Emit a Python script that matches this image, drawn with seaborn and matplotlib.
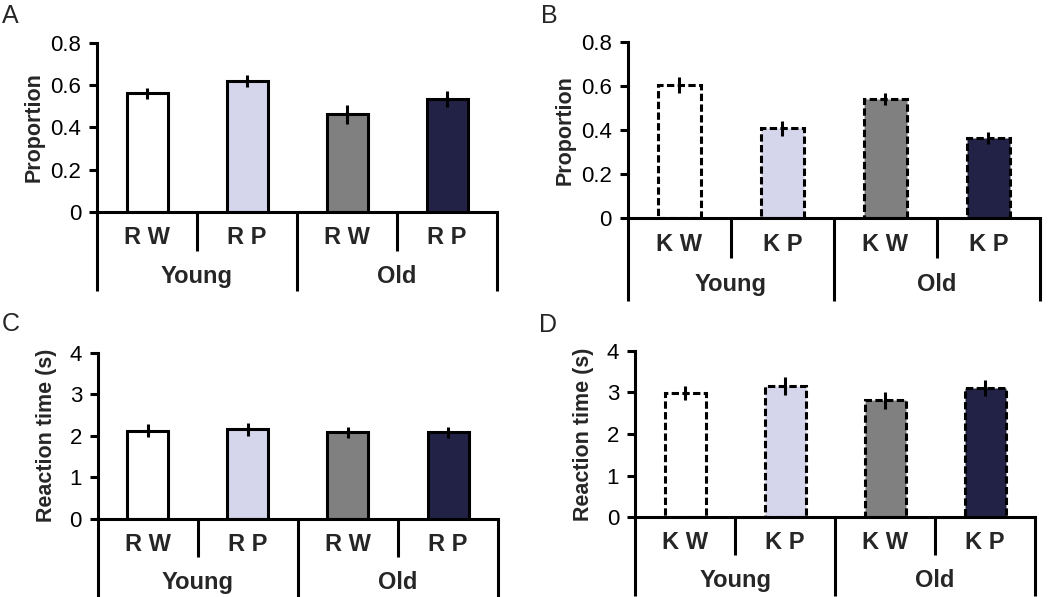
import pandas as pd
import matplotlib.pyplot as plt
import matplotlib.transforms as mtransforms
from matplotlib.ticker import FuncFormatter
import seaborn as sns

sns.set_style('white')
plt.rcParams['font.family'] = ['Liberation Sans', 'DejaVu Sans']

groups = ['Young', 'Old']
r_labels = ['R W', 'R P', 'R W', 'R P']
k_labels = ['K W', 'K P', 'K W', 'K P']
bar_colors = ['#ffffff', '#d1d2ef', '#808080', '#1c1c4c']

prop_r = [0.562, 0.620, 0.462, 0.535]
prop_r_err = [0.025, 0.027, 0.046, 0.039]
prop_k = [0.605, 0.408, 0.540, 0.365]
prop_k_err = [0.036, 0.033, 0.027, 0.028]
rt_r = [2.12, 2.16, 2.08, 2.08]
rt_r_err = [0.16, 0.16, 0.14, 0.13]
rt_k = [2.98, 3.15, 2.81, 3.10]
rt_k_err = [0.17, 0.21, 0.20, 0.19]

LW = 2.2

fig = plt.figure(figsize=(10.5, 5.97), dpi=100)


def panel(rect, labels, vals, errs, ymax, yticks, ylabel, dashed, labelpad):
    ax = fig.add_axes(rect)
    cond = [f'{g} {l}' for g, l in zip(['Young', 'Young', 'Old', 'Old'], labels)]
    df = pd.DataFrame({'cond': cond, 'value': vals})
    sns.barplot(data=df, x='cond', y='value', hue='cond', palette=bar_colors,
                width=0.41, edgecolor='black', linewidth=LW, legend=False,
                errorbar=None, ax=ax)
    xs = [p.get_x() + p.get_width() / 2 for p in ax.patches]
    if dashed:
        for p in ax.patches:
            p.set_linestyle((0, (2.4, 1.1)))
    ax.errorbar(xs, vals, yerr=errs, fmt='none', ecolor='black',
                elinewidth=LW, capsize=0, zorder=5)

    ax.set_xlim(-0.5, 3.5)
    ax.set_ylim(0, ymax)
    ax.set_yticks(yticks)
    ax.yaxis.set_major_formatter(FuncFormatter(lambda v, _: f'{v:g}'))
    ax.set_xticks([])
    ax.set_xlabel('')
    ax.set_ylabel(ylabel, fontsize=15.5, fontweight='bold', labelpad=labelpad)
    ax.tick_params(axis='y', direction='out', length=5.5, width=LW,
                   labelsize=16, pad=6, left=True, colors='black')
    for s in ['top', 'right']:
        ax.spines[s].set_visible(False)
    for s in ['left', 'bottom']:
        ax.spines[s].set_linewidth(LW)
        ax.spines[s].set_color('black')

    # category dividers and labels under the axis
    tr = mtransforms.blended_transform_factory(ax.transData, ax.transAxes)
    for x in [-0.5, 1.5, 3.5]:
        ax.plot([x, x], [0, -0.47], color='black', lw=LW, transform=tr,
                clip_on=False, solid_capstyle='butt')
    for x in [0.5, 2.5]:
        ax.plot([x, x], [0, -0.228], color='black', lw=LW, transform=tr,
                clip_on=False, solid_capstyle='butt')
    for x, lab in zip(xs, labels):
        ax.text(x, -0.152, lab, transform=tr, ha='center', va='center',
                fontsize=17, fontweight='bold')
    for i, g in enumerate(groups):
        ax.text(0.5 + 2 * i, -0.38, g, transform=tr, ha='center', va='center',
                fontsize=17, fontweight='bold')
    return ax


panel([0.0924, 0.6449, 0.381, 0.2831], r_labels, prop_r, prop_r_err, 0.8,
      [0, 0.2, 0.4, 0.6, 0.8], 'Proportion', False, 4)
panel([0.598, 0.6348, 0.3924, 0.2948], k_labels, prop_k, prop_k_err, 0.8,
      [0, 0.2, 0.4, 0.6, 0.8], 'Proportion', True, 4)
panel([0.0933, 0.1307, 0.381, 0.2786], r_labels, rt_r, rt_r_err, 4,
      [0, 1, 2, 3, 4], 'Reaction time (s)', False, 9)
panel([0.6048, 0.1335, 0.381, 0.2792], k_labels, rt_k, rt_k_err, 4,
      [0, 1, 2, 3, 4], 'Reaction time (s)', True, 9)

for x, y, letter in [(2, 4, 'A'), (541, 4, 'B'), (2, 312, 'C'), (539, 313, 'D')]:
    fig.text(x / 1050, 1 - y / 597, letter, fontsize=18, ha='left', va='top')

fig.savefig('out.png', dpi=100)
